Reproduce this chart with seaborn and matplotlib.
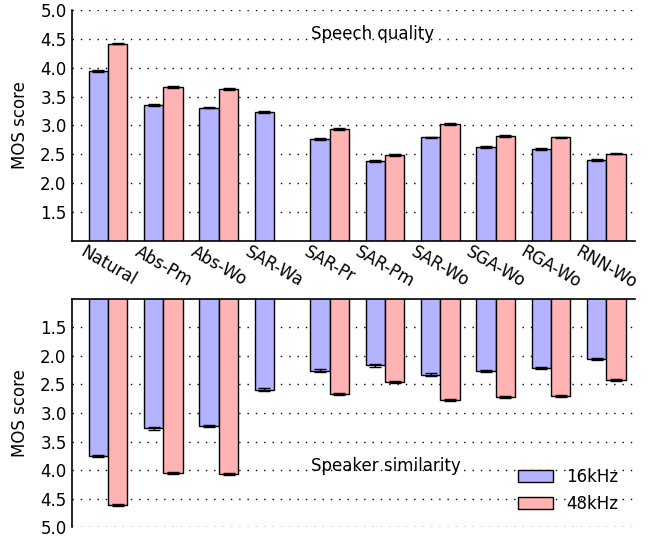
import matplotlib
matplotlib.use('Agg')
import matplotlib.pyplot as plt
from matplotlib.container import BarContainer
import seaborn as sns
import numpy as np
import pandas as pd

sistemas = ['Natural', 'Abs-Pm', 'Abs-Wo', 'SAR-Wa', 'SAR-Pr', 'SAR-Pm',
            'SAR-Wo', 'SGA-Wo', 'RGA-Wo', 'RNN-Wo']
frecuencias = ['16kHz', '48kHz']

calidad_16 = [3.95, 3.36, 3.31, 3.23, 2.76, 2.38, 2.79, 2.63, 2.59, 2.40]
calidad_48 = [4.42, 3.67, 3.63, np.nan, 2.94, 2.48, 3.02, 2.81, 2.79, 2.51]
calidad_err_16 = [0.015, 0.015, 0.015, 0.02, 0.015, 0.015, 0.015, 0.015, 0.015, 0.015]
calidad_err_48 = [0.012, 0.015, 0.015, np.nan, 0.015, 0.015, 0.015, 0.015, 0.015, 0.015]

similitud_16 = [3.75, 3.27, 3.23, 2.59, 2.26, 2.17, 2.33, 2.27, 2.22, 2.06]
similitud_48 = [4.61, 4.05, 4.07, np.nan, 2.67, 2.46, 2.77, 2.72, 2.70, 2.42]
similitud_err_16 = [0.02, 0.02, 0.02, 0.02, 0.02, 0.02, 0.02, 0.02, 0.02, 0.02]
similitud_err_48 = [0.02, 0.02, 0.02, np.nan, 0.02, 0.02, 0.02, 0.02, 0.02, 0.02]

colores = {'16kHz': '#b3b3ff', '48kHz': '#ffb3b3'}


def tabla(v16, v48):
    return pd.DataFrame({
        'sistema': sistemas * 2,
        'frecuencia': ['16kHz'] * len(sistemas) + ['48kHz'] * len(sistemas),
        'mos': list(v16) + list(v48),
    })


def dibujar(ax, v16, v48, e16, e48):
    df = tabla(v16, v48)
    sns.barplot(data=df, x='sistema', y='mos', hue='frecuencia', order=sistemas,
                hue_order=frecuencias, palette=colores, width=0.7,
                edgecolor='black', linewidth=1, saturation=1, ax=ax)
    errores = [e16, e48]
    barras = [c for c in ax.containers if isinstance(c, BarContainer)]
    for k, cont in enumerate(barras):
        for barra in cont:
            cx = barra.get_x() + barra.get_width() / 2
            h = barra.get_height()
            if np.isnan(h):
                continue
            i = int(round(cx))
            ax.errorbar(cx, h, yerr=errores[k][i], color='black',
                        capsize=4, elinewidth=1, capthick=1, zorder=5)
    ax.set_xlim(-0.65, 9.52)
    ax.set_xlabel('')
    ax.set_ylabel('MOS score', fontsize=12, labelpad=8)
    ax.set_yticks([1.5, 2.0, 2.5, 3.0, 3.5, 4.0, 4.5, 5.0])
    ax.yaxis.grid(True, color='black', linestyle=(0, (1, 5)), linewidth=1)
    ax.xaxis.grid(False)
    ax.set_axisbelow(True)
    ax.tick_params(axis='y', direction='in', length=5, labelsize=12, right=False, pad=4)
    ax.tick_params(axis='x', length=0)
    for s in ax.spines.values():
        s.set_color('black')
        s.set_linewidth(1.2)


sns.set_style('white')
plt.rcParams['font.family'] = ['DejaVu Sans']
plt.rcParams['text.color'] = 'black'
plt.rcParams['axes.labelcolor'] = 'black'
plt.rcParams['xtick.color'] = 'black'
plt.rcParams['ytick.color'] = 'black'

fig = plt.figure(figsize=(6.5, 5.37), dpi=100)
ax1 = fig.add_axes([0.111, 0.552, 0.866, 0.429])
ax2 = fig.add_axes([0.111, 0.018, 0.866, 0.426])

dibujar(ax1, calidad_16, calidad_48, calidad_err_16, calidad_err_48)
ax1.set_ylim(1.0, 5.0)
ax1.spines['top'].set_visible(False)
ax1.spines['right'].set_visible(False)
ax1.set_xticks(range(len(sistemas)))
ax1.set_xticklabels(sistemas, rotation=-30, ha='center', fontsize=12)
ax1.tick_params(axis='x', pad=2)
ax1.legend_.remove()
ax1.text(0.424, 0.896, 'Speech quality', transform=ax1.transAxes,
         fontsize=12, ha='left', va='center')

dibujar(ax2, similitud_16, similitud_48, similitud_err_16, similitud_err_48)
ax2.set_ylim(5.0, 1.0)
ax2.spines['bottom'].set_visible(False)
ax2.spines['right'].set_visible(False)
ax2.set_xticklabels([])
ax2.text(0.424, 0.27, 'Speaker similarity', transform=ax2.transAxes,
         fontsize=12, ha='left', va='center')
ax2.legend(loc='lower left', bbox_to_anchor=(0.792, 0.062), frameon=False,
           fontsize=12, handlelength=2.1, handleheight=0.7, labelspacing=0.55,
           handletextpad=0.8, borderpad=0, borderaxespad=0)

fig.savefig('out.png', dpi=100)
